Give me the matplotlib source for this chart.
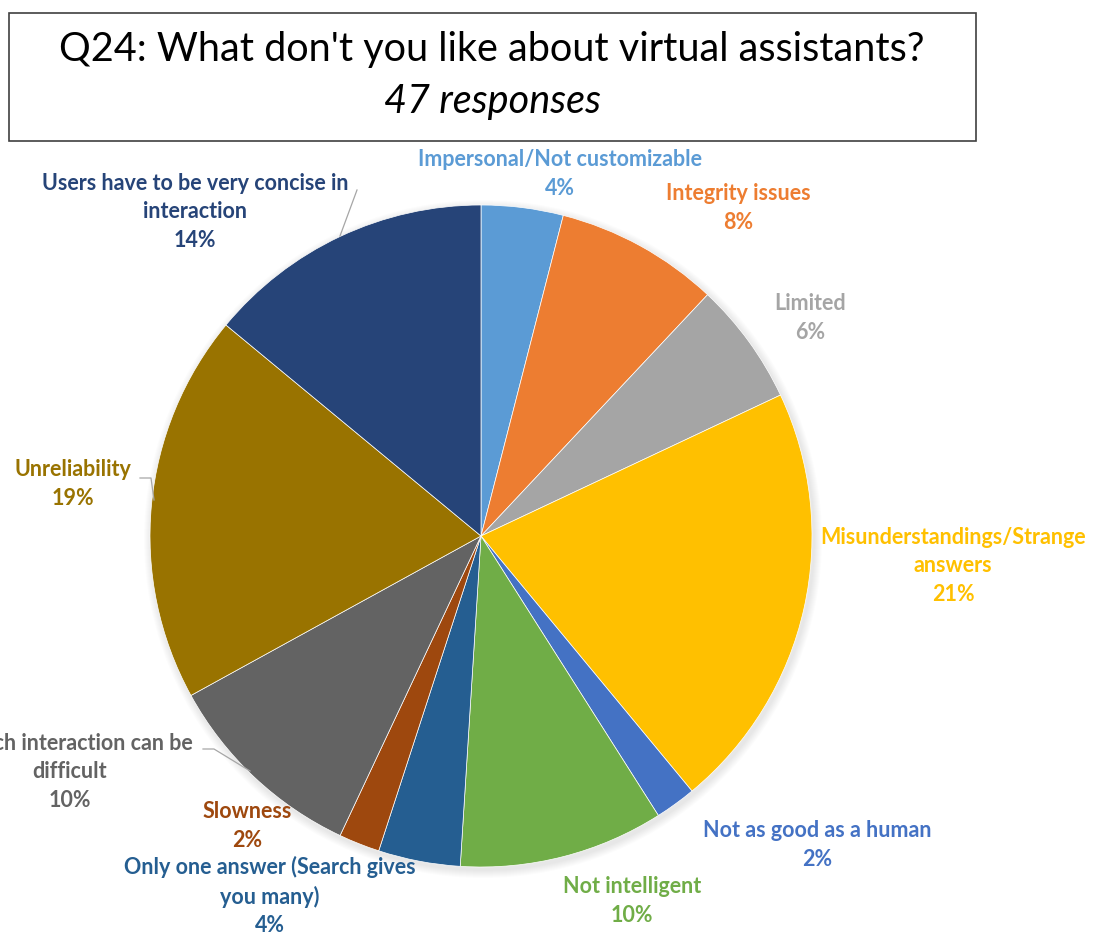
import numpy as np
import matplotlib.pyplot as plt
from matplotlib.patches import Rectangle, Circle

labels = [
    "Impersonal/Not customizable",
    "Integrity issues",
    "Limited",
    "Misunderstandings/Strange\nanswers",
    "Not as good as a human",
    "Not intelligent",
    "Only one answer (Search gives\nyou many)",
    "Slowness",
    "Speech interaction can be\ndifficult",
    "Unreliability",
    "Users have to be very concise in\ninteraction",
]
shares = [4, 8, 6, 21, 2, 10, 4, 2, 10, 19, 14]
colors = ["#5B9BD5", "#ED7D31", "#A5A5A5", "#FFC000", "#4472C4", "#70AD47",
          "#255E91", "#9E480E", "#636363", "#997300", "#264478"]

# label block centres in pixel space (x from left, y from top)
label_pos = [(560, 174), (738, 208), (810, 318), (953, 566), (817, 845),
             (632, 901), (270, 896), (247, 826), (70, 772), (73, 484), (195, 212)]

W, H = 1101, 934
cx, cy, R = 481, H - 536, 331

plt.rcParams['font.family'] = ['Lato', 'DejaVu Sans']
fig = plt.figure(figsize=(W / 100, H / 100), dpi=100)
ax = fig.add_axes([0, 0, 1, 1])

# soft shadow under the pie
for i in range(8):
    ax.add_patch(Circle((cx + 2, cy - 3), R + 8 - i, color='black', alpha=0.012, lw=0))

wedges, _ = ax.pie(shares, colors=colors, startangle=90, counterclock=False,
                   center=(cx, cy), radius=R, frame=True,
                   wedgeprops=dict(linewidth=0.5, edgecolor='white'))
ax.set_xlim(0, W)
ax.set_ylim(0, H)
ax.set_aspect('equal')
ax.axis('off')

for lab, val, col, (lx, ly) in zip(labels, shares, colors, label_pos):
    ax.text(lx, H - ly, f"{lab}\n{val}%", color=col, fontsize=15.5, fontweight='bold',
            ha='center', va='center', linespacing=1.42)

# leader lines
lc = '#A6A6A6'
ax.plot([357, 340], [H - 190, H - 236], color=lc, lw=0.9)
ax.plot([140, 151, 154], [H - 478, H - 478, H - 500], color=lc, lw=0.9)
ax.plot([203, 214, 250], [H - 749, H - 749, H - 771], color=lc, lw=0.9)

# title box
ax.add_patch(Rectangle((9, H - 141), 967, 128, fill=False, edgecolor='#404040', lw=1.2))
ax.text(492, H - 50, "Q24: What don't you like about virtual assistants?",
        fontsize=28.5, ha='center', va='center', color='black')
ax.text(492, H - 101, "47 responses", fontsize=28.5, style='italic',
        ha='center', va='center', color='black')

fig.savefig('out.png', dpi=100)
